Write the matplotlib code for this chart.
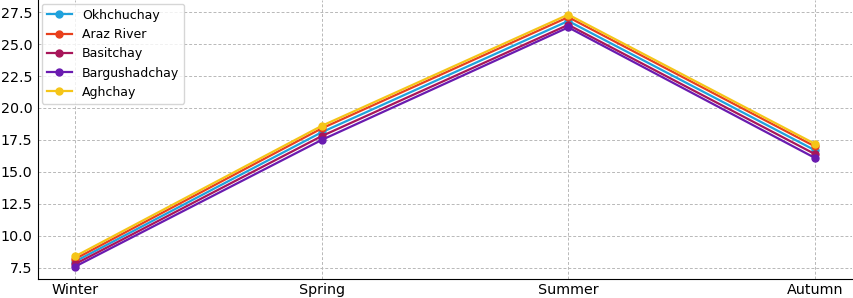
import matplotlib
matplotlib.use("Agg")
import matplotlib.pyplot as plt

seasons = ["Winter", "Spring", "Summer", "Autumn"]
rivers = ["Okhchuchay", "Araz River", "Basitchay", "Bargushadchay", "Aghchay"]

okhchuchay = [8.0, 18.1, 26.8, 16.7]
araz_river = [8.2, 18.4, 27.1, 17.0]
basitchay = [7.8, 17.8, 26.5, 16.4]
bargushadchay = [7.6, 17.5, 26.3, 16.1]
aghchay = [8.4, 18.6, 27.3, 17.2]

colors = ["#1fa2dc", "#e8401c", "#a8165a", "#6a1bb0", "#f5c518"]

fig = plt.figure(figsize = (8.54, 2.98), dpi = 100)
ax = fig.add_axes([0.0445, 0.064, 0.953, 0.936])

allSeries = [okhchuchay, araz_river, basitchay, bargushadchay, aghchay]
for name, values, c in zip(rivers, allSeries, colors) :
    ax.plot(seasons, values, marker = "o", markersize = 5, linewidth = 1.6, color = c, label = name)

ax.set_xlim(-0.15, 3.15)
ax.set_ylim(6.64, 28.44)
ax.set_yticks([7.5, 10.0, 12.5, 15.0, 17.5, 20.0, 22.5, 25.0, 27.5])
ax.grid(True, linestyle = (0, (3, 2)), color = "#b8b8b8", linewidth = 0.7)
ax.tick_params(labelsize = 10.3, length = 0)
ax.tick_params(axis = "y", pad = 4)
ax.tick_params(axis = "x", pad = 3)
ax.spines["top"].set_visible(False)
ax.spines["right"].set_visible(False)
ax.legend(loc = "upper left", fontsize = 9, borderaxespad = 0.3)

fig.savefig("out.png", dpi = 100)
